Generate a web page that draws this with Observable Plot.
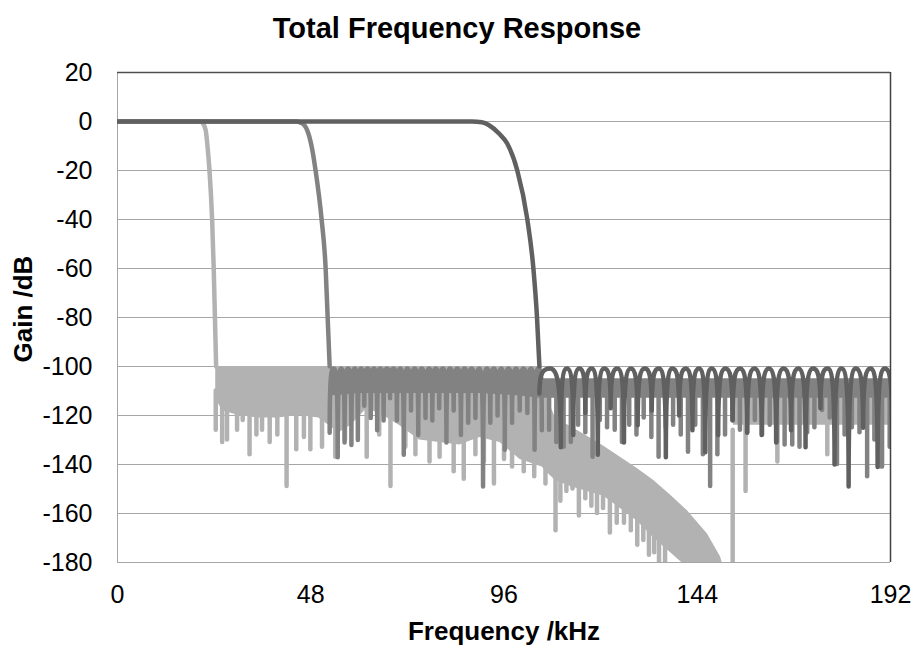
<!DOCTYPE html>
<html>
<head>
<meta charset="utf-8">
<script src="https://cdn.jsdelivr.net/npm/d3@7"></script>
<script src="https://cdn.jsdelivr.net/npm/@observablehq/plot@0.6"></script>
<style>
  body { margin: 0; background: #fff; font-family: "Liberation Sans", Arial, sans-serif; }
  #title { width: 914px; height: 50px; line-height: 56px; overflow: visible; text-align: center; font-weight: bold; font-size: 29px; color: #000; }
</style>
</head>
<body>
<div id="title">Total Frequency Response</div>
<div id="chart"></div>
<script>
// ---------- tick labels ----------
const xTicks = [0, 48, 96, 144, 192];
const yTicks = [-180, -160, -140, -120, -100, -80, -60, -40, -20, 0, 20];

// ---------- light series (narrowest filter) ----------
const lightPassKHz = [0, 20.6, 21.2, 21.9, 22.35, 22.85, 23.5, 23.9, 24.2, 24.5];
const lightPassDb  = [0, 0, -0.7, -3.5, -10, -20, -40, -60, -80, -100];
const lightBandKHz    = [24.4, 26, 30, 35, 40, 45, 50, 55, 58, 62, 66, 70, 75, 80, 85, 90, 95, 100, 105.5, 106.5, 108.8, 112.5, 116.7, 120.8, 124.9, 129, 133.2, 137.4, 141.5, 146.5, 149.8, 151.2];
const lightBandTopDb  = [-100, -100, -100, -100, -100, -100, -100, -100, -100, -100, -100, -100, -100, -100, -100, -100, -100, -100, -100, -112, -121, -124.5, -128.5, -132.5, -137, -141.5, -146.5, -152.5, -158.8, -168.3, -177.8, -186];
const lightBandLowDb  = [-113, -118, -120, -121, -121, -120, -121, -127, -124, -117, -120, -124, -130, -131, -132, -129, -131, -138, -141, -143, -146.5, -149, -151, -153, -158, -163, -170, -176, -182, -186, -186, -186];
const lightTailKHz    = [153, 192];
const lightTailTopDb  = [-110, -110];
const lightTailLowDb  = [-124, -124];
const lightSpikeKHz    = [24.4, 26.0, 27.2, 29.7, 31.1, 32.8, 34.5, 35.9, 37.8, 39.7, 42.0, 44.4, 46.3, 47.9, 50.8, 54.1, 56.5, 61.9, 65.0, 67.8, 71.5, 74.0, 77.5, 80.0, 83.5, 86.0, 88.9, 91.0, 93.5, 96.0, 98.0, 100.9, 103.5, 106.3, 108.8, 110.0, 111.5, 113.0, 114.6, 116.2, 117.7, 119.1, 120.6, 122.3, 124.0, 125.8, 127.5, 129.1, 130.6, 132.0, 133.3, 134.5, 136.0, 152.8, 156.0, 163.9, 176.3, 189.5];
const lightSpikeFromDb = [-110, -115, -115, -115, -115, -115, -115, -115, -115, -115, -115, -115, -115, -115, -115, -120, -120, -115, -115, -118, -120, -125, -125, -125, -125, -125, -125, -125, -125, -125, -125, -130, -130, -135, -140, -140, -142, -145, -145, -145, -148, -150, -150, -150, -155, -155, -158, -160, -162, -165, -166, -168, -170, -126, -115, -115, -115, -115];
const lightSpikeToDb   = [-126, -131, -130, -126, -122, -136, -128, -126, -131, -128, -149, -134, -129, -134, -133, -137, -130, -137, -128, -149, -133, -136, -139, -137, -143, -146, -136, -139, -148, -138, -141, -143, -145, -148, -167, -155, -151, -150, -161, -154, -157, -160, -158, -168, -164, -164, -167, -173, -171, -177, -176, -182, -182, -182, -151, -139, -136, -141];

// ---------- medium series ----------
const medPassKHz = [0, 44.3, 45.5, 46.4, 47.1, 48.2, 49.2, 50.7, 51.7, 52.2, 52.7];
const medPassDb  = [0, 0, -0.5, -1.5, -3.5, -10, -20, -40, -60, -80, -100];
// side-lobe nulls below the dark filter's cut-off (drawn as arches)
const medNullKHz = [52.7, 54.7, 56.4, 58.1, 59.7, 61.3, 62.9, 64.5, 66.1, 67.7, 69.4, 71.1, 72.9, 74.7, 76.5, 78.2, 79.9, 81.7, 83.5, 85.3, 87.1, 88.9, 90.8, 92.6, 94.4, 96.2, 98.0, 99.9, 101.8, 103.6, 105.4];
const medNullDb  = [-127, -137, -131, -132, -130, -116, -121, -126, -122, -113, -122, -136, -118, -128, -121, -122, -117, -131, -118, -128, -123, -121, -149, -123, -120, -134, -123, -118, -119, -134, -126];
// side-lobe nulls above it (mostly hidden behind the dark lobes)
const medTailNullKHz = [107.2, 109.0, 110.8, 112.6, 114.4, 116.2, 118.0, 119.8, 121.6, 123.5, 125.3, 127.1, 128.9, 130.7, 132.6, 134.4, 136.2, 138.0, 139.9, 141.7, 143.5, 145.4, 147.2, 149.0, 150.9, 152.7, 154.6, 156.4, 158.3, 160.1, 162.0, 163.8, 165.7, 167.6, 169.4, 171.3, 173.1, 175.0, 176.9, 178.7, 180.6, 182.4, 184.3, 186.2, 188.0, 189.9, 191.8];
const medTailNullDb  = [-126, -131, -133, -131, -124, -127, -137, -122, -125, -126, -131, -124, -128, -121, -129, -137, -125, -124, -128, -135, -124, -136, -149, -136, -128, -122, -126, -127, -122, -128, -124, -131, -132, -132, -133, -127, -125, -118, -121, -140, -128, -125, -127, -145, -130, -141, -133];
const medBandKHz   = [52.7, 60, 70, 80, 90, 100, 105, 106, 120, 140, 160, 180, 192];
const medBandTopDb = [-102.8, -102.8, -102.8, -102.8, -102.8, -102.8, -102.8, -105, -105, -105, -105, -105, -105];
const medBandLowDb = [-112, -111, -111, -111, -111, -112, -113, -113, -113, -113, -113, -113, -113];

// ---------- dark series (widest filter) ----------
const darkPassKHz = [0, 88.0, 90.5, 92.2, 94.7, 96.8, 99.3, 101.8, 103.3, 104.2, 104.8];
const darkPassDb  = [0, 0, -0.3, -1.4, -4.8, -9, -20, -40, -60, -80, -100];
const darkNullKHz = [104.8, 110.1, 113.2, 116.2, 119.3, 122.5, 125.8, 129.2, 132.7, 136.2, 139.5, 142.8, 146.0, 149.2, 152.8, 156.4, 160.0, 163.6, 167.3, 170.9, 174.6, 178.1, 181.6, 185.2, 188.8, 192.4];
const darkNullDb  = [-111, -133, -128, -119, -136, -117, -131, -124, -118, -137, -120, -126, -135, -128, -122, -127, -128, -131, -126, -133, -117, -140, -149, -125, -141, -125];

const stopbandPeakDb = -100.8;

// colours
const cLight = "#b2b2b2", cMed = "#828282", cDark = "#606060";

// ---------- tables ----------
const zipXY = (xs, ys) => xs.map((x, i) => ({x, y: ys[i]}));
const band = (xs, tops, lows) => xs.map((x, i) => ({x, top: tops[i], low: lows[i]}));
function archTable(xs, ds, peak) {
  const rows = [];
  xs.forEach((x, i) => {
    rows.push({x, y: ds[i]});
    if (i < xs.length - 1) rows.push({x: (x + xs[i + 1]) / 2, y: peak});
  });
  return rows;
}
const lightPass = zipXY(lightPassKHz, lightPassDb);
const lightBand = band(lightBandKHz, lightBandTopDb, lightBandLowDb);
const lightTail = band(lightTailKHz, lightTailTopDb, lightTailLowDb);
const lightSpikes = lightSpikeKHz.map((x, i) => ({x, from: lightSpikeFromDb[i], to: lightSpikeToDb[i]}));
const medPass = zipXY(medPassKHz, medPassDb);
const medBand = band(medBandKHz, medBandTopDb, medBandLowDb);
const medStop = archTable(medNullKHz, medNullDb, stopbandPeakDb);
const medTail = zipXY(medTailNullKHz, medTailNullDb);
const darkPass = zipXY(darkPassKHz, darkPassDb);
const darkStop = archTable(darkNullKHz, darkNullDb, stopbandPeakDb);

// side-lobe arch curve: vertical at nulls, rounded at peaks
function archCurve(context) {
  let px, py, n = 0;
  return {
    areaStart() {}, areaEnd() {},
    lineStart() { n = 0; },
    lineEnd() {},
    point(x, y) {
      x = +x; y = +y;
      if (n === 0) context.moveTo(x, y);
      else {
        const dx = x - px;
        if (y < py) context.bezierCurveTo(px, py + 0.85 * (y - py), px + 0.35 * dx, y, x, y);
        else if (y > py) context.bezierCurveTo(px + 0.65 * dx, py, x, y + 0.85 * (py - y), x, y);
        else context.lineTo(x, y);
      }
      px = x; py = y; n++;
    }
  };
}

const sw = 4.5;
const lineStyle = {strokeWidth: sw, strokeLinecap: "round", strokeLinejoin: "round", clip: true};

const chart = Plot.plot({
  width: 914,
  height: 601,
  marginTop: 22,
  marginLeft: 117,
  marginRight: 24,
  marginBottom: 89,
  x: {domain: [0, 192]},
  y: {domain: [-180, 20]},
  style: {fontFamily: "'Liberation Sans', Arial, sans-serif", color: "#000", background: "#fff", overflow: "visible"},
  marks: [
    Plot.ruleY(yTicks, {stroke: "#a6a6a6", strokeWidth: 1}),
    Plot.ruleX([0], {stroke: "#a6a6a6", strokeWidth: 1}),
    // light
    Plot.areaY(lightBand, {x: "x", y1: "top", y2: "low", fill: cLight, clip: true}),
    Plot.areaY(lightTail, {x: "x", y1: "top", y2: "low", fill: cLight, clip: true}),
    Plot.ruleX(lightSpikes, {x: "x", y1: "from", y2: "to", stroke: cLight, ...lineStyle}),
    Plot.line(lightPass, {x: "x", y: "y", stroke: cLight, curve: "monotone-x", ...lineStyle}),
    // medium
    Plot.areaY(medBand, {x: "x", y1: "top", y2: "low", fill: cMed, clip: true}),
    Plot.ruleX(medTail, {x: "x", y1: -110, y2: "y", stroke: cMed, ...lineStyle}),
    Plot.line(medStop, {x: "x", y: "y", stroke: cMed, curve: archCurve, ...lineStyle}),
    Plot.line(medPass, {x: "x", y: "y", stroke: cMed, curve: "monotone-x", ...lineStyle}),
    // dark
    Plot.line(darkStop, {x: "x", y: "y", stroke: cDark, curve: archCurve, ...lineStyle}),
    Plot.line(darkPass, {x: "x", y: "y", stroke: cDark, curve: "monotone-x", ...lineStyle}),
    // frame
    Plot.ruleY([-180], {stroke: "#a6a6a6", strokeWidth: 1}),
    Plot.ruleY([20], {stroke: "#505050", strokeWidth: 1.5}),
    Plot.ruleX([192], {stroke: "#404040", strokeWidth: 1.5}),
    // axes
    Plot.axisY(yTicks, {tickSize: 0, tickPadding: 25, fontSize: 25, tickFormat: d => String(d), label: null}),
    Plot.axisX(xTicks, {tickSize: 0, tickPadding: 23, fontSize: 25, tickFormat: d => String(d), label: null}),
    Plot.text(["Frequency /kHz"], {text: d => d, frameAnchor: "bottom", dy: 77, fontSize: 26, fontWeight: "bold"}),
    Plot.text(["Gain /dB"], {text: d => d, frameAnchor: "left", dx: -94, dy: 45, rotate: -90, fontSize: 26, fontWeight: "bold"})
  ]
});
document.getElementById("chart").appendChild(chart);
</script>
</body>
</html>
